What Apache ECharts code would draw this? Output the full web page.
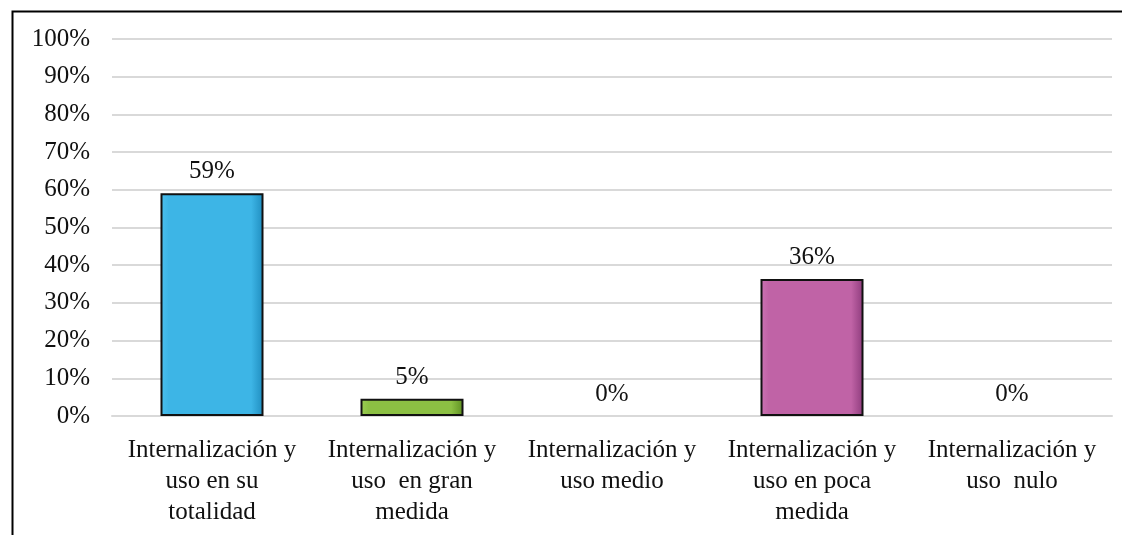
<!DOCTYPE html>
<html>
<head>
<meta charset="utf-8">
<script src="https://cdn.jsdelivr.net/npm/echarts@6/dist/echarts.min.js"></script>
<style>
  html, body { margin: 0; padding: 0; background: #fff; }
  #main { width: 1122px; height: 535px; }
</style>
</head>
<body>
<div id="main"></div>
<script>
var categories = [
    'Internalización y\nuso en su\ntotalidad',
    'Internalización y\nuso  en gran\nmedida',
    'Internalización y\nuso medio',
    'Internalización y\nuso en poca\nmedida',
    'Internalización y\nuso  nulo'
];
var values = [59.09, 4.55, 0, 36.36, 0];
var barColors = [
    ['#4cc0ee', '#3db5e6', '#1f8dbf'],
    ['#9ccf55', '#8cc043', '#5e8f22'],
    ['#c8c8c8', '#bbbbbb', '#888888'],
    ['#cc74b4', '#c063a6', '#8d3b7c'],
    ['#c8c8c8', '#bbbbbb', '#888888']
];
var yTicks = [0, 10, 20, 30, 40, 50, 60, 70, 80, 90, 100];

var font = '"Liberation Serif", "DejaVu Serif", serif';

function bevel(c) {
    return new echarts.graphic.LinearGradient(0, 0, 1, 0, [
        { offset: 0, color: c[0] },
        { offset: 0.08, color: c[1] },
        { offset: 0.88, color: c[1] },
        { offset: 1, color: c[2] }
    ]);
}

var option = {
    backgroundColor: '#fff',
    animation: false,
    graphic: [{
        type: 'rect',
        left: 10,
        top: 9,
        shape: { width: 1300, height: 700 },
        style: { fill: 'none', stroke: '#000', lineWidth: 2 },
        silent: true
    }],
    grid: { left: 112, right: 10, top: 39, bottom: 119 },
    xAxis: {
        type: 'category',
        data: categories,
        axisLine: { show: true, lineStyle: { color: '#d9d9d9', width: 2 } },
        axisTick: { show: false },
        axisLabel: {
            interval: 0,
            margin: 19,
            color: '#111',
            fontFamily: font,
            fontSize: 25,
            lineHeight: 31,
            align: 'center'
        }
    },
    yAxis: {
        type: 'value',
        min: 0,
        max: 100,
        interval: 10,
        axisLine: { show: false },
        axisTick: { show: false },
        splitLine: { lineStyle: { color: '#d9d9d9', width: 2 } },
        axisLabel: {
            margin: 22,
            color: '#111',
            fontFamily: font,
            fontSize: 25,
            formatter: function (v) { return yTicks.indexOf(v) >= 0 ? v + '%' : ''; }
        }
    },
    series: [{
        type: 'bar',
        barWidth: 103,
        data: values.map(function (v, i) {
            return {
                value: v,
                itemStyle: {
                    color: bevel(barColors[i]),
                    borderColor: '#111',
                    borderWidth: v > 0 ? 2 : 0
                }
            };
        }),
        label: {
            show: true,
            position: 'top',
            distance: 9,
            color: '#111',
            fontFamily: font,
            fontSize: 25,
            formatter: function (p) { return Math.round(p.value) + '%'; }
        }
    }]
};

var myChart = echarts.init(document.getElementById('main'));
myChart.setOption(option);
</script>
</body>
</html>
